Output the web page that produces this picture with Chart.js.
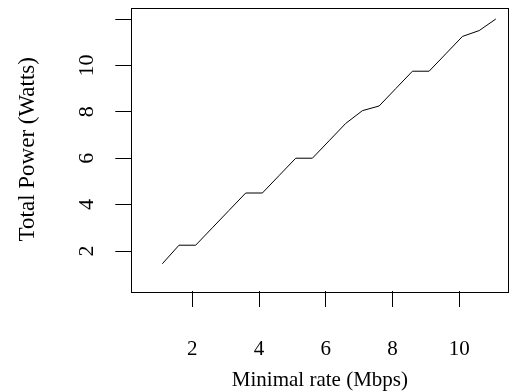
<!DOCTYPE html>
<html>
<head>
<meta charset="utf-8">
<script src="https://cdn.jsdelivr.net/npm/chart.js@4/dist/chart.umd.min.js"></script>
<style>
  html, body { margin: 0; padding: 0; background: #fff; }
  #wrap { width: 517px; height: 391px; }
</style>
</head>
<body>
<div id="wrap"><canvas id="PowerChart" width="517" height="391"></canvas></div>
<script>
// values
const rate = [1.1, 1.6, 2.1, 2.6, 3.1, 3.6, 4.1, 4.6, 5.1, 5.6, 6.1,
              6.6, 7.1, 7.6, 8.1, 8.6, 9.1, 9.6, 10.1, 10.6, 11.1];
const power = [1.45, 2.25, 2.25, 3.0, 3.75, 4.5, 4.5, 5.25, 6.0, 6.0, 6.75,
               7.5, 8.05, 8.25, 9.0, 9.75, 9.75, 10.5, 11.25, 11.5, 12.0];
const x_ticks = [2, 4, 6, 8, 10];
const y_ticks = [2, 4, 6, 8, 10, 12];
const y_labels = ['2', '4', '6', '8', '10', ''];

const serif = '"Liberation Serif", "Times New Roman", serif';

// box around the plotting region, like R's box()
const box_plugin = {
    id: 'box',
    afterDraw(chart){
        const a = chart.chartArea;
        const ctx = chart.ctx;
        ctx.save();
        ctx.strokeStyle = '#000';
        ctx.lineWidth = 1;
        ctx.strokeRect(Math.round(a.left) + 0.5, Math.round(a.top) + 0.5,
                       Math.round(a.right - a.left), Math.round(a.bottom - a.top));
        ctx.restore();
    }
};

const points = [];
for (let i = 0; i < rate.length; i++){
    points.push({x: rate[i], y: power[i]});
}

const ctx = document.getElementById('PowerChart').getContext('2d');
const chart = new Chart(ctx, {
    type: 'line',
    data: {
        datasets: [
            {
                data: points,
                borderColor: '#000',
                borderWidth: 1,
                pointRadius: 0,
                fill: false,
                tension: 0
            }
        ]
    },
    options: {
        responsive: false,
        animation: false,
        layout: { padding: { top: 7.5, right: 8.5, left: 0, bottom: 0 } },
        plugins: { legend: { display: false }, tooltip: { enabled: false } },
        scales: {
            x: {
                type: 'linear',
                min: 0.17,
                max: 11.48,
                afterBuildTicks(scale){ scale.ticks = x_ticks.map(v => ({value: v})); },
                afterFit(scale){
                    scale.height = 100;
                    scale.paddingLeft = 0;
                    scale.paddingRight = 0;
                },
                border: { display: false },
                grid: { drawOnChartArea: false, tickLength: 16, color: '#000', tickColor: '#000' },
                ticks: {
                    color: '#000',
                    padding: 30,
                    maxRotation: 0,
                    autoSkip: false,
                    font: { family: serif, size: 21 }
                },
                title: {
                    display: true,
                    text: 'Minimal rate (Mbps)',
                    color: '#000',
                    padding: { top: 0, bottom: -2 },
                    font: { family: serif, size: 21 }
                }
            },
            y: {
                type: 'linear',
                min: 0.276,
                max: 12.496,
                afterBuildTicks(scale){ scale.ticks = y_ticks.map(v => ({value: v})); },
                afterFit(scale){
                    scale.width = 131.3;
                    scale.paddingTop = 0;
                    scale.paddingBottom = 0;
                },
                border: { display: false },
                grid: { drawOnChartArea: false, tickLength: 16, color: '#000', tickColor: '#000' },
                ticks: {
                    color: '#000',
                    padding: 17,
                    minRotation: 90,
                    maxRotation: 90,
                    crossAlign: 'center',
                    autoSkip: false,
                    font: { family: serif, size: 22 },
                    callback: (v) => y_labels[y_ticks.indexOf(v)]
                },
                title: {
                    display: true,
                    text: 'Total Power (Watts)',
                    color: '#000',
                    padding: { top: 14, bottom: 0 },
                    font: { family: serif, size: 23 }
                }
            }
        }
    },
    plugins: [box_plugin]
});
</script>
</body>
</html>
